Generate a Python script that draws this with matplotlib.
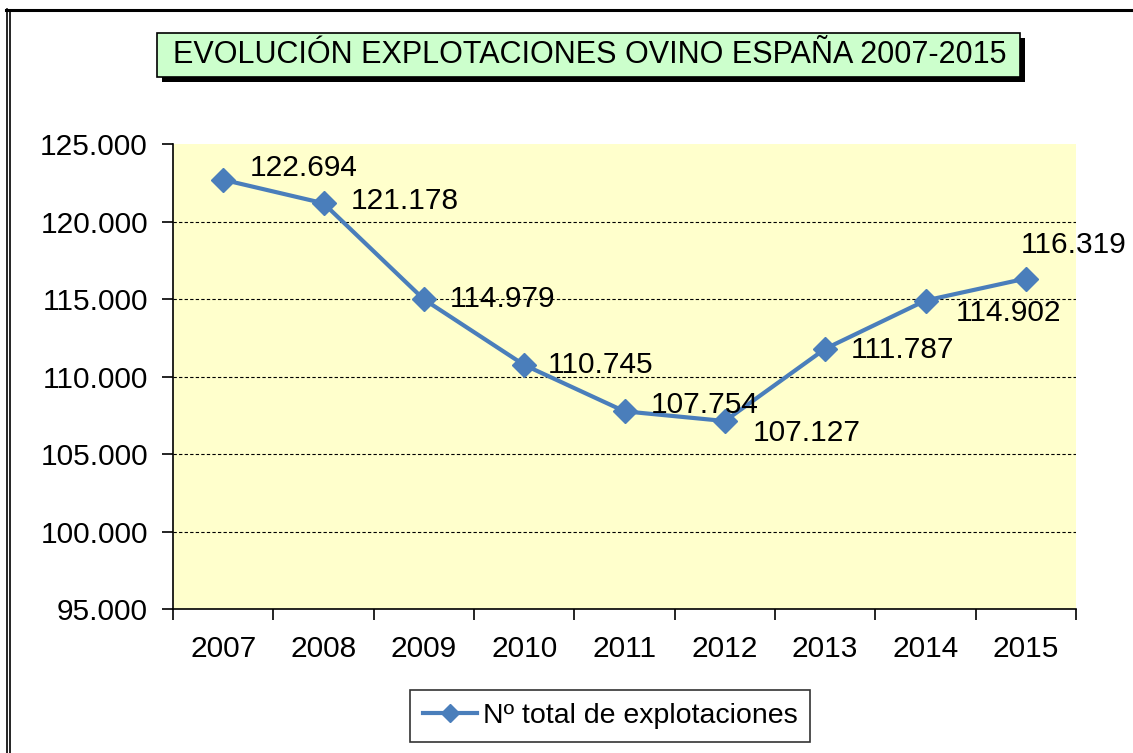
import matplotlib
matplotlib.use("Agg")
import matplotlib.pyplot as plt
from matplotlib.patches import Rectangle
from matplotlib.lines import Line2D

# Data
years = ["2007", "2008", "2009", "2010", "2011", "2012", "2013", "2014", "2015"]
explotaciones = [122694, 121178, 114979, 110745, 107754, 107127, 111787, 114902, 116319]
y_ticks = [95000, 100000, 105000, 110000, 115000, 120000, 125000]

title = "EVOLUCIÓN EXPLOTACIONES OVINO ESPAÑA 2007-2015"
legend_label = "Nº total de explotaciones"

# label offsets in pixels (dx, dy), text left-aligned, centred vertically
label_offsets = [(27, 12), (27, 2), (26, 0), (24, 0), (26, 6),
                 (28, -12), (26, -1), (30, -12), (-5, 34)]

line_color = "#4A7EBB"
font = "Liberation Sans"
plt.rcParams["font.family"] = [font, "DejaVu Sans"]

W, H = 1133, 753
fig = plt.figure(figsize=(W / 100, H / 100), dpi=100)


def fx(px):
    return px / W


def fy(py):
    return 1 - py / H


ax = fig.add_axes([fx(173), fy(609), fx(1076) - fx(173), fy(144) - fy(609)])
ax.set_facecolor("#FFFFCC")

x = [i + 0.5 for i in range(len(years))]
ax.plot(x, explotaciones, color=line_color, lw=3, marker="D", ms=12,
        label=legend_label, zorder=3)

def fmt(v):
    return f"{v:,}".replace(",", ".")

for xi, v, (dx, dy) in zip(x, explotaciones, label_offsets):
    ax.annotate(fmt(v), (xi, v), xytext=(dx, dy), textcoords="offset pixels",
                ha="left", va="center", fontsize=21.5, color="black", zorder=4)

ax.set_xlim(0, len(years))
ax.set_ylim(95000, 125000)
ax.set_yticks(y_ticks)
ax.set_yticklabels([fmt(t) for t in y_ticks])
ax.set_xticks(range(len(years) + 1))
ax.set_xticklabels([])
ax.set_xticks(x, minor=True)
ax.set_xticklabels(years, minor=True)
ax.tick_params(axis="x", which="minor", length=0, pad=19, labelsize=21.5)
ax.tick_params(axis="x", which="major", length=8, width=1.2, direction="out")
ax.tick_params(axis="y", length=8, width=1.2, direction="out", pad=10, labelsize=21.5)

for yv in y_ticks[1:-1]:
    ax.axhline(yv, color="black", lw=0.8, ls=(0, (3, 2)), zorder=1)

for s in ["top", "right"]:
    ax.spines[s].set_visible(False)
for s in ["left", "bottom"]:
    ax.spines[s].set_linewidth(1.2)

# title box with drop shadow
bx0, by0, bx1, by1 = 157, 33, 1020, 77
fig.patches.append(Rectangle((fx(bx0 + 5), fy(by1 + 5)), fx(bx1 - bx0), fy(by0) - fy(by1),
                             transform=fig.transFigure, facecolor="black",
                             edgecolor="none", zorder=1))
fig.patches.append(Rectangle((fx(bx0), fy(by1)), fx(bx1 - bx0), fy(by0) - fy(by1),
                             transform=fig.transFigure, facecolor="#CCFFCC",
                             edgecolor="black", lw=1.2, zorder=2))
fig.text(fx((bx0 + bx1) / 2 + 1), fy((by0 + by1) / 2), title, ha="center", va="center",
         fontsize=22, zorder=3)

# legend
leg = fig.legend(loc="upper left", bbox_to_anchor=(fx(410), fy(690)),
                 bbox_transform=fig.transFigure, fontsize=20.5, frameon=True,
                 fancybox=False, handlelength=1.9, handletextpad=0.2,
                 borderpad=0.45, borderaxespad=0, markerscale=0.75)
leg.get_frame().set_edgecolor("black")
leg.get_frame().set_linewidth(1.2)

# outer frame lines
fig.add_artist(Line2D([fx(6), fx(1133)], [fy(10), fy(10)], color="black", lw=2.2,
                      transform=fig.transFigure))
fig.add_artist(Line2D([fx(6.5), fx(6.5)], [fy(9), fy(753)], color="black", lw=1.2,
                      transform=fig.transFigure))
fig.add_artist(Line2D([fx(9.5), fx(9.5)], [fy(11), fy(753)], color="black", lw=1.2,
                      transform=fig.transFigure))

fig.savefig("out.png", dpi=100)
